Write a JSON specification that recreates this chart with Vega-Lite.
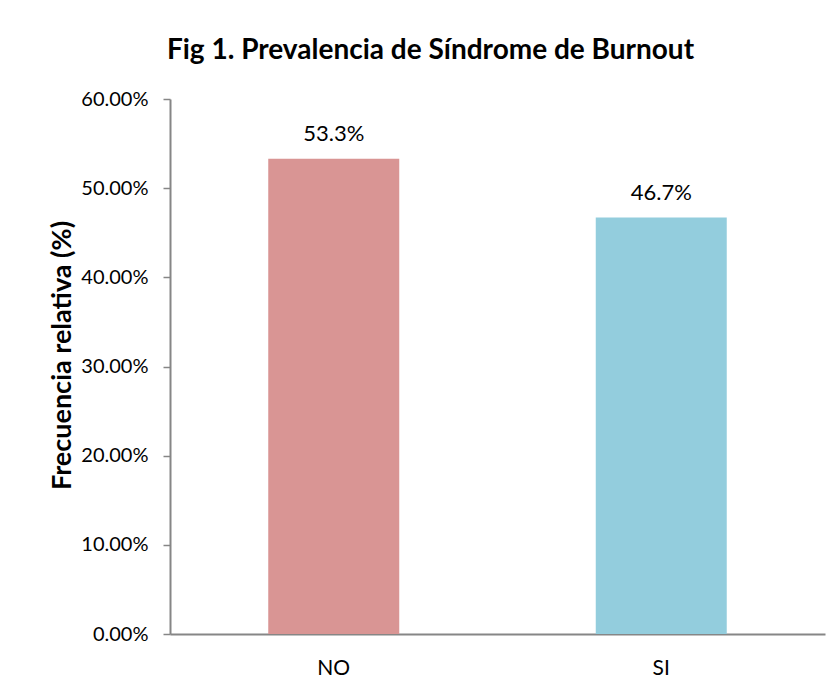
{
  "$schema": "https://vega.github.io/schema/vega-lite/v6.json",
  "width": 655,
  "height": 535,
  "autosize": {"type": "none"},
  "padding": {"left": 170, "top": 99, "right": 15, "bottom": 58},
  "background": "white",
  "title": {
    "text": "Fig 1. Prevalencia de Síndrome de Burnout",
    "font": "Lato",
    "fontSize": 28,
    "fontWeight": "bold",
    "color": "#000000",
    "anchor": "middle",
    "frame": "group",
    "dx": -67,
    "baseline": "alphabetic",
    "offset": 2
  },
  "data": {
    "values": [
      {"categoria": "NO", "frecuencia": 0.533},
      {"categoria": "SI", "frecuencia": 0.467}
    ]
  },
  "encoding": {
    "x": {
      "field": "categoria",
      "type": "nominal",
      "sort": null,
      "scale": {"paddingInner": 0.6, "paddingOuter": 0.3},
      "axis": {
        "title": null,
        "labelAngle": 0,
        "ticks": false,
        "tickSize": 0,
        "labelPadding": 40,
        "labelBaseline": "alphabetic",
        "labelFont": "Lato",
        "labelFontSize": 21,
        "labelColor": "#000000",
        "domainColor": "#868686",
        "domainWidth": 2
      }
    },
    "y": {
      "field": "frecuencia",
      "type": "quantitative",
      "scale": {"domain": [0, 0.6]},
      "axis": {
        "title": "Frecuencia relativa (%)",
        "titleFont": "Lato",
        "titleFontSize": 27,
        "titleFontWeight": "bold",
        "titleColor": "#000000",
        "titleAngle": 270,
        "titleX": -100,
        "titleY": 256,
        "titleBaseline": "alphabetic",
        "titleAlign": "center",
        "values": [0, 0.1, 0.2, 0.3, 0.4, 0.5, 0.6],
        "format": ".2%",
        "labelFont": "Lato",
        "labelFontSize": 20,
        "labelColor": "#000000",
        "labelPadding": 15,
        "tickSize": 7,
        "tickWidth": 1.5,
        "tickColor": "#868686",
        "domainColor": "#868686",
        "domainWidth": 2,
        "grid": false
      }
    }
  },
  "layer": [
    {
      "mark": {"type": "bar"},
      "encoding": {
        "color": {
          "field": "categoria",
          "type": "nominal",
          "scale": {"domain": ["NO", "SI"], "range": ["#D99594", "#93CDDD"]},
          "legend": null
        }
      }
    },
    {
      "mark": {"type": "text", "baseline": "alphabetic", "dy": -18, "font": "Lato", "fontSize": 22, "color": "#000000"},
      "encoding": {
        "text": {"field": "frecuencia", "type": "quantitative", "format": ".1%"}
      }
    }
  ],
  "config": {"view": {"stroke": null}}
}
